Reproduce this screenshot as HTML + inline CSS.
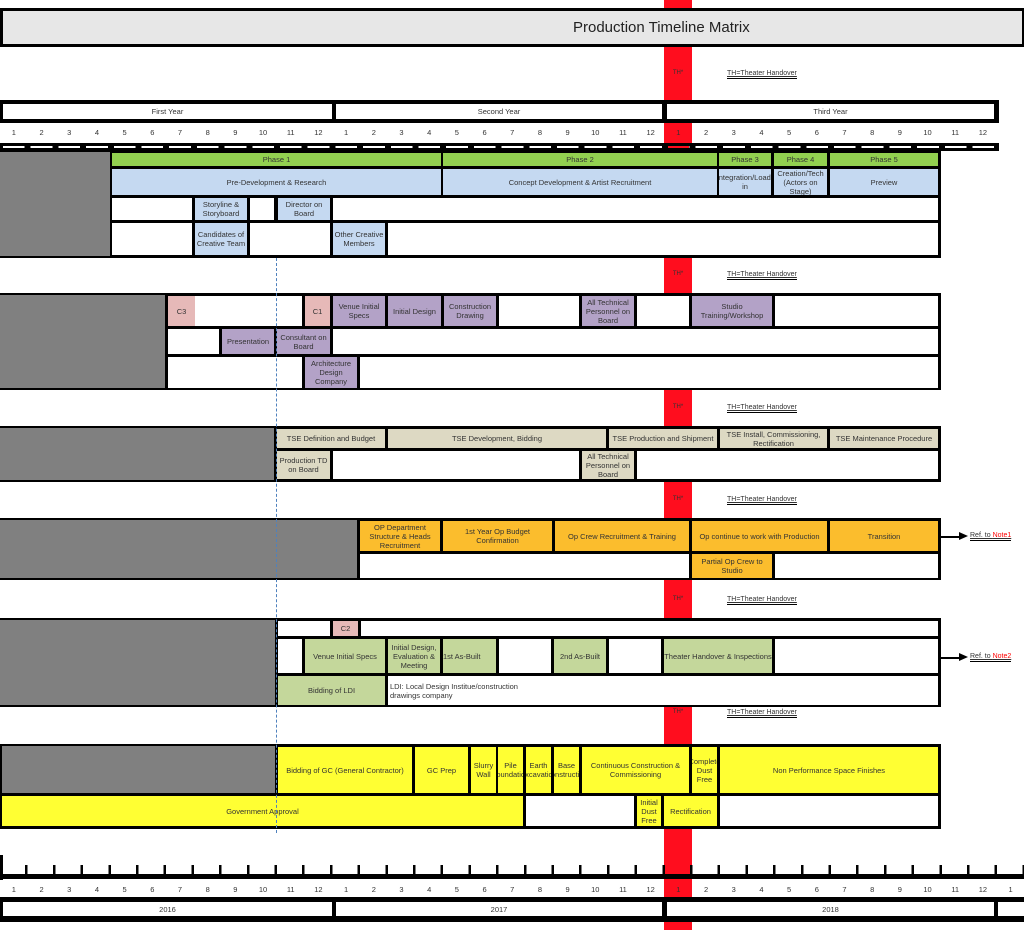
<!DOCTYPE html>
<html><head><meta charset="utf-8">
<style>
*{box-sizing:border-box;margin:0;padding:0}
body{width:1024px;height:930px;position:relative;background:#fff;font-family:"Liberation Sans",sans-serif;overflow:hidden;color:#333}
.a{position:absolute}
.k{position:absolute;background:#000}
.b{position:absolute;display:flex;align-items:center;justify-content:center;text-align:center;font-size:7.5px;line-height:1.2;overflow:hidden;color:#333}
.w{background:#fff}.g{background:#808080}.gr{background:#92d050}.bl{background:#c5d9f1}.pk{background:#e6b9b8}.pu{background:#b3a2c7}
.be{background:#ddd9c3}.or{background:#fbbd2d}.lg{background:#c4d79b}.ye{background:#ffff33}
.nums{position:absolute;display:flex;font-size:7.5px;color:#333}
.nums span{width:27.7px;text-align:center}
.th{position:absolute;left:664px;width:28px;text-align:center;font-size:6px;color:#333}
.thl{position:absolute;left:727px;font-size:7px;color:#333;text-decoration:underline;border-bottom:1.5px solid #000;line-height:9px}
</style></head><body>
<!-- red column -->
<div class="a" style="left:664px;top:0;width:28px;height:930px;background:#ff0d1e"></div>

<!-- title -->
<div class="k" style="left:0;top:8px;width:1024px;height:39px"></div>
<div class="b" style="left:3px;top:11px;width:1019px;height:33px;background:#e7e7e7;font-size:15px;color:#222;justify-content:flex-start;padding-left:570px">Production Timeline Matrix</div>

<!-- TH labels -->
<div class="th" style="top:70px">TH*</div><div class="thl" style="top:69px">TH=Theater Handover</div>
<div class="th" style="top:271px">TH*</div><div class="thl" style="top:270px">TH=Theater Handover</div>
<div class="th" style="top:404px">TH*</div><div class="thl" style="top:403px">TH=Theater Handover</div>
<div class="th" style="top:496px">TH*</div><div class="thl" style="top:495px">TH=Theater Handover</div>
<div class="th" style="top:596px">TH*</div><div class="thl" style="top:595px">TH=Theater Handover</div>
<div class="th" style="top:709px">TH*</div><div class="thl" style="top:708px">TH=Theater Handover</div>

<!-- year bar top -->
<div class="k" style="left:0;top:100px;width:999px;height:23px"></div>
<div class="b w" style="left:3px;top:104px;width:329px;height:15px">First Year</div>
<div class="b w" style="left:336px;top:104px;width:326px;height:15px">Second Year</div>
<div class="b w" style="left:667px;top:104px;width:327px;height:15px">Third Year</div>
<div class="nums" style="left:0;top:128px"><span>1</span><span>2</span><span>3</span><span>4</span><span>5</span><span>6</span><span>7</span><span>8</span><span>9</span><span>10</span><span>11</span><span>12</span><span>1</span><span>2</span><span>3</span><span>4</span><span>5</span><span>6</span><span>7</span><span>8</span><span>9</span><span>10</span><span>11</span><span>12</span><span>1</span><span>2</span><span>3</span><span>4</span><span>5</span><span>6</span><span>7</span><span>8</span><span>9</span><span>10</span><span>11</span><span>12</span></div>
<div class="k" style="left:0;top:143px;width:999px;height:8px"></div>
<div class="a" style="left:0;top:146px;width:997px;height:2px;background:repeating-linear-gradient(90deg,#000 0,#000 3px,#fff 3px,#fff 24.7px,#000 24.7px,#000 27.7px)"></div>
<div class="a" style="left:668px;top:146px;width:21px;height:2px;background:#ff0d1e"></div>

<!-- Section 1 -->
<div class="k" style="left:0;top:150px;width:941px;height:108px"></div>
<div class="b g" style="left:0;top:152px;width:110px;height:104px"></div>
<div class="b gr" style="left:112px;top:153px;width:329px;height:13px">Phase 1</div>
<div class="b gr" style="left:443px;top:153px;width:274px;height:13px">Phase 2</div>
<div class="b gr" style="left:719px;top:153px;width:52px;height:13px">Phase 3</div>
<div class="b gr" style="left:774px;top:153px;width:53px;height:13px">Phase 4</div>
<div class="b gr" style="left:830px;top:153px;width:108px;height:13px">Phase 5</div>
<div class="b bl" style="left:112px;top:169px;width:329px;height:26px">Pre-Development &amp; Research</div>
<div class="b bl" style="left:443px;top:169px;width:274px;height:26px">Concept Development &amp; Artist Recruitment</div>
<div class="b bl" style="left:719px;top:169px;width:52px;height:26px">Integration/Load-in</div>
<div class="b bl" style="left:774px;top:169px;width:53px;height:26px">Creation/Tech (Actors on Stage)</div>
<div class="b bl" style="left:830px;top:169px;width:108px;height:26px">Preview</div>
<div class="b w" style="left:112px;top:198px;width:80px;height:22px"></div>
<div class="b bl" style="left:195px;top:198px;width:52px;height:22px">Storyline &amp; Storyboard</div>
<div class="b w" style="left:250px;top:198px;width:24px;height:22px"></div>
<div class="b bl" style="left:278px;top:198px;width:52px;height:22px">Director on Board</div>
<div class="b w" style="left:333px;top:198px;width:605px;height:22px"></div>
<div class="b w" style="left:112px;top:223px;width:80px;height:32px"></div>
<div class="b bl" style="left:195px;top:223px;width:52px;height:32px">Candidates of Creative Team</div>
<div class="b w" style="left:250px;top:223px;width:80px;height:32px"></div>
<div class="b bl" style="left:333px;top:223px;width:52px;height:32px">Other Creative Members</div>
<div class="b w" style="left:388px;top:223px;width:550px;height:32px"></div>

<!-- Section 2 -->
<div class="k" style="left:0;top:293px;width:941px;height:97px"></div>
<div class="b g" style="left:0;top:295px;width:165px;height:93px"></div>
<div class="b pk" style="left:168px;top:296px;width:27px;height:30px">C3</div>
<div class="b w" style="left:195px;top:296px;width:107px;height:30px"></div>
<div class="b pk" style="left:305px;top:296px;width:25px;height:30px">C1</div>
<div class="b pu" style="left:333px;top:296px;width:52px;height:30px">Venue Initial Specs</div>
<div class="b pu" style="left:388px;top:296px;width:53px;height:30px">Initial Design</div>
<div class="b pu" style="left:444px;top:296px;width:52px;height:30px">Construction Drawing</div>
<div class="b w" style="left:499px;top:296px;width:80px;height:30px"></div>
<div class="b pu" style="left:582px;top:296px;width:52px;height:30px">All Technical Personnel on Board</div>
<div class="b w" style="left:637px;top:296px;width:52px;height:30px"></div>
<div class="b pu" style="left:692px;top:296px;width:80px;height:30px">Studio Training/Workshop</div>
<div class="b w" style="left:775px;top:296px;width:163px;height:30px"></div>
<div class="b w" style="left:168px;top:329px;width:51px;height:25px"></div>
<div class="b pu" style="left:222px;top:329px;width:52px;height:25px">Presentation</div>
<div class="b pu" style="left:277px;top:329px;width:53px;height:25px">Consultant on Board</div>
<div class="b w" style="left:333px;top:329px;width:605px;height:25px"></div>
<div class="b w" style="left:168px;top:357px;width:134px;height:31px"></div>
<div class="b pu" style="left:305px;top:357px;width:52px;height:31px">Architecture Design Company</div>
<div class="b w" style="left:360px;top:357px;width:578px;height:31px"></div>

<!-- Section 3 -->
<div class="k" style="left:0;top:426px;width:941px;height:56px"></div>
<div class="b g" style="left:0;top:428px;width:274px;height:52px"></div>
<div class="b be" style="left:277px;top:429px;width:108px;height:19px">TSE Definition and Budget</div>
<div class="b be" style="left:388px;top:429px;width:218px;height:19px">TSE Development, Bidding</div>
<div class="b be" style="left:609px;top:429px;width:108px;height:19px">TSE Production and Shipment</div>
<div class="b be" style="left:720px;top:429px;width:107px;height:19px">TSE Install, Commissioning, Rectification</div>
<div class="b be" style="left:830px;top:429px;width:108px;height:19px">TSE Maintenance Procedure</div>
<div class="b be" style="left:277px;top:451px;width:53px;height:28px">Production TD on Board</div>
<div class="b w" style="left:333px;top:451px;width:246px;height:28px"></div>
<div class="b be" style="left:582px;top:451px;width:52px;height:28px">All Technical Personnel on Board</div>
<div class="b w" style="left:637px;top:451px;width:301px;height:28px"></div>

<!-- Section 4 -->
<div class="k" style="left:0;top:518px;width:941px;height:62px"></div>
<div class="b g" style="left:0;top:520px;width:357px;height:58px"></div>
<div class="b or" style="left:360px;top:521px;width:80px;height:30px">OP Department Structure &amp; Heads Recruitment</div>
<div class="b or" style="left:443px;top:521px;width:109px;height:30px">1st Year Op Budget Confirmation</div>
<div class="b or" style="left:555px;top:521px;width:134px;height:30px">Op Crew Recruitment &amp; Training</div>
<div class="b or" style="left:692px;top:521px;width:135px;height:30px">Op continue to work with Production</div>
<div class="b or" style="left:830px;top:521px;width:108px;height:30px">Transition</div>
<div class="b w" style="left:360px;top:554px;width:329px;height:24px"></div>
<div class="b or" style="left:692px;top:554px;width:80px;height:24px">Partial Op Crew to Studio</div>
<div class="b w" style="left:775px;top:554px;width:163px;height:24px"></div>
<div class="k" style="left:941px;top:536px;width:20px;height:1.5px"></div>
<div class="a" style="left:959px;top:532px;width:0;height:0;border-left:9px solid #000;border-top:4.5px solid transparent;border-bottom:4.5px solid transparent"></div>
<div class="a" style="left:970px;top:532px;font-size:7px;text-decoration:underline;border-bottom:1px solid #000;line-height:8px">Ref. to <span style="color:#f00">Note1</span></div>

<!-- Section 5 -->
<div class="k" style="left:0;top:618px;width:941px;height:89px"></div>
<div class="b g" style="left:0;top:620px;width:275px;height:85px"></div>
<div class="b w" style="left:278px;top:621px;width:52px;height:15px"></div>
<div class="b pk" style="left:333px;top:621px;width:25px;height:15px">C2</div>
<div class="b w" style="left:361px;top:621px;width:577px;height:15px"></div>
<div class="b w" style="left:278px;top:639px;width:24px;height:34px"></div>
<div class="b lg" style="left:305px;top:639px;width:80px;height:34px">Venue Initial Specs</div>
<div class="b lg" style="left:388px;top:639px;width:52px;height:34px">Initial Design, Evaluation &amp; Meeting</div>
<div class="b lg" style="left:443px;top:639px;width:53px;height:34px;justify-content:flex-start">1st As-Built</div>
<div class="b w" style="left:499px;top:639px;width:52px;height:34px"></div>
<div class="b lg" style="left:554px;top:639px;width:52px;height:34px">2nd As-Built</div>
<div class="b w" style="left:609px;top:639px;width:52px;height:34px"></div>
<div class="b lg" style="left:664px;top:639px;width:108px;height:34px">Theater Handover &amp; Inspections</div>
<div class="b w" style="left:775px;top:639px;width:163px;height:34px"></div>
<div class="b lg" style="left:278px;top:676px;width:107px;height:29px">Bidding of LDI</div>
<div class="b w" style="left:388px;top:676px;width:550px;height:29px;justify-content:flex-start;text-align:left;padding-left:2px">LDI: Local Design Institue/construction<br>drawings company</div>
<div class="k" style="left:941px;top:657px;width:20px;height:1.5px"></div>
<div class="a" style="left:959px;top:653px;width:0;height:0;border-left:9px solid #000;border-top:4.5px solid transparent;border-bottom:4.5px solid transparent"></div>
<div class="a" style="left:970px;top:653px;font-size:7px;text-decoration:underline;border-bottom:1px solid #000;line-height:8px">Ref. to <span style="color:#f00">Note2</span></div>

<!-- Section 6 -->
<div class="k" style="left:0;top:744px;width:941px;height:85px"></div>
<div class="b g" style="left:2px;top:746px;width:273px;height:47px"></div>
<div class="b ye" style="left:278px;top:747px;width:134px;height:46px">Bidding of GC (General Contractor)</div>
<div class="b ye" style="left:415px;top:747px;width:53px;height:46px">GC Prep</div>
<div class="b ye" style="left:471px;top:747px;width:25px;height:46px">Slurry Wall</div>
<div class="b ye" style="left:498px;top:747px;width:25px;height:46px">Pile Foundation</div>
<div class="b ye" style="left:526px;top:747px;width:25px;height:46px">Earth Excavation</div>
<div class="b ye" style="left:554px;top:747px;width:25px;height:46px">Base Construction</div>
<div class="b ye" style="left:582px;top:747px;width:107px;height:46px">Continuous Construction &amp; Commissioning</div>
<div class="b ye" style="left:692px;top:747px;width:25px;height:46px">Complete Dust Free</div>
<div class="b ye" style="left:720px;top:747px;width:218px;height:46px">Non Performance Space Finishes</div>
<div class="b ye" style="left:2px;top:796px;width:521px;height:30px">Government Approval</div>
<div class="b w" style="left:526px;top:796px;width:108px;height:30px"></div>
<div class="b ye" style="left:637px;top:796px;width:24px;height:30px">Initial Dust Free</div>
<div class="b ye" style="left:664px;top:796px;width:53px;height:30px">Rectification</div>
<div class="b w" style="left:720px;top:796px;width:218px;height:30px"></div>

<!-- blue dash-dot line -->
<div class="a" style="left:276px;top:258px;width:0;height:575px;border-left:1.5px dashed #4f81bd"></div>

<!-- bottom ruler -->
<div class="k" style="left:0;top:855px;width:3px;height:25px"></div>
<div class="k" style="left:0;top:874px;width:1024px;height:5px"></div>
<div class="a" style="left:0;top:865px;width:1024px;height:10px;background:repeating-linear-gradient(90deg,transparent 0,transparent 25.2px,#000 25.2px,#000 27.7px)"></div>
<div class="nums" style="left:0;top:885px"><span>1</span><span>2</span><span>3</span><span>4</span><span>5</span><span>6</span><span>7</span><span>8</span><span>9</span><span>10</span><span>11</span><span>12</span><span>1</span><span>2</span><span>3</span><span>4</span><span>5</span><span>6</span><span>7</span><span>8</span><span>9</span><span>10</span><span>11</span><span>12</span><span>1</span><span>2</span><span>3</span><span>4</span><span>5</span><span>6</span><span>7</span><span>8</span><span>9</span><span>10</span><span>11</span><span>12</span><span>1</span></div>
<div class="k" style="left:0;top:897px;width:1024px;height:25px"></div>
<div class="b w" style="left:3px;top:902px;width:329px;height:14px">2016</div>
<div class="b w" style="left:336px;top:902px;width:326px;height:14px">2017</div>
<div class="b w" style="left:667px;top:902px;width:327px;height:14px">2018</div>
<div class="b w" style="left:998px;top:902px;width:26px;height:14px"></div>
</body></html>
